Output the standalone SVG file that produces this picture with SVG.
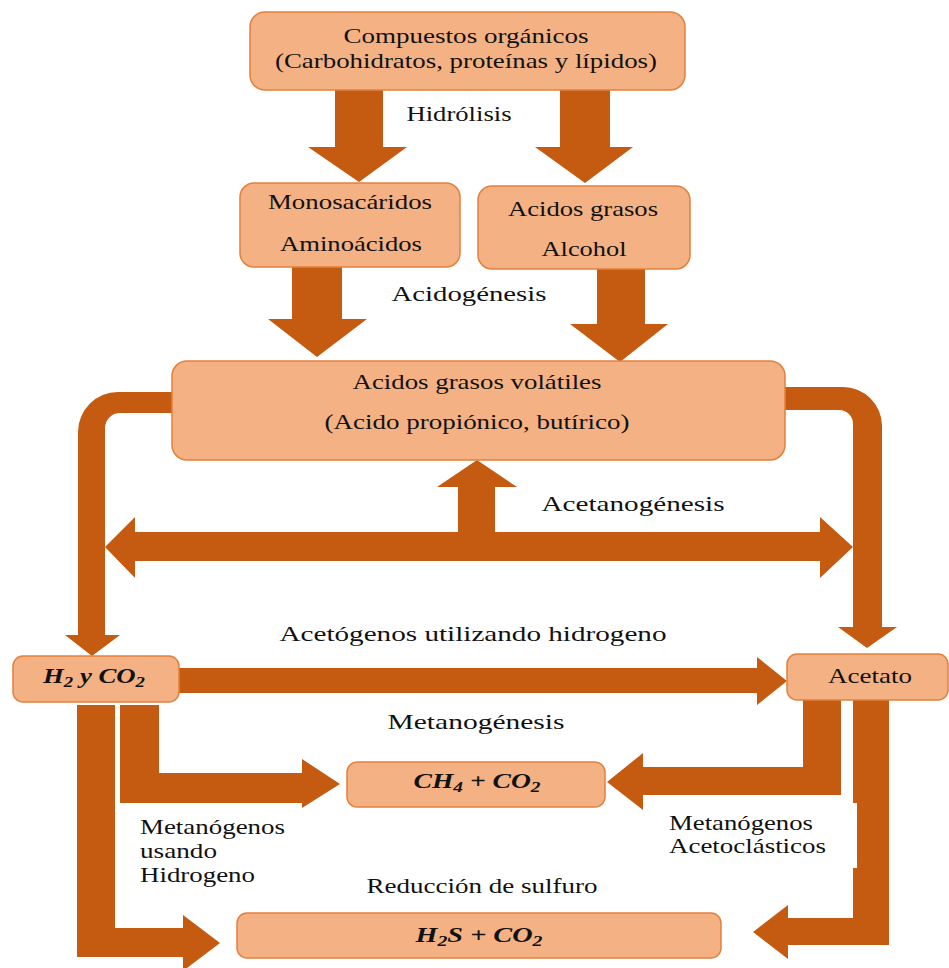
<svg xmlns="http://www.w3.org/2000/svg" width="949" height="968" viewBox="0 0 949 968">
<style>
.box{fill:#F4B183;stroke:#E3803E;stroke-width:1.5}
.arr{fill:#C55A11}
text{font-family:"Liberation Serif","Times New Roman",serif;font-size:22px;fill:#111111}
.c{text-anchor:middle}
.m{font-style:italic;font-weight:bold;font-size:20px}
.s{font-size:14px}
</style>
<rect width="949" height="968" fill="#ffffff"/>
<g id="connectors">
<path class="arr" d="M335,90 H383 V147 H407 L359,182 L308,147 H335 Z"/>
<path class="arr" d="M560,90 H610 V147 H633 L585,183 L535,147 H560 Z"/>
<path class="arr" d="M292,267 H342 V319 H367 L317,357 L268,319 H292 Z"/>
<path class="arr" d="M597,269 H645 V324 H668 L620,362 L570,324 H597 Z"/>
<path class="arr" d="M172,392 H118 A40,40 0 0 0 78,432 V635 H65 L92,656 L120,635 H105 V428 A15,15 0 0 1 120,413 H172 Z"/>
<path class="arr" d="M785,387 H843 A39,39 0 0 1 882,426 V627 H897 L867,648 L838,627 H853 V424 A14,14 0 0 0 839,410 H785 Z"/>
<path class="arr" d="M105,547 L135,517 V532 H458 V487 H437 L477,460 L517,487 H495 V532 H820 V517 L853,547 L820,578 V561 H135 V578 Z"/>
<path class="arr" d="M179,668 H757 V657 L787,681 L757,705 V693 H179 Z"/>
<path class="arr" d="M120,705 H159 V773 H302 V759 L340,784 L302,808 V803 H120 Z"/>
<path class="arr" d="M77,705 H115 V928 H183 V915 L220,943 L183,971 V957 H77 Z"/>
<path class="arr" d="M803,700 H841 V795 H643 V810 L607,782 L643,753 V767 H803 Z"/>
<path class="arr" d="M853,700 H889 V945 H788 V959 L753,932 L788,905 V918 H853 V868 H857 V803 H853 Z"/>
</g>
<g id="compuestos">
<rect class="box" x="250" y="12" width="435" height="78" rx="15"/>
<text class="c" x="466" y="43" textLength="245" lengthAdjust="spacingAndGlyphs">Compuestos orgánicos</text>
<text class="c" x="466" y="68" textLength="382" lengthAdjust="spacingAndGlyphs">(Carbohidratos, proteínas y lípidos)</text>
</g>
<g id="monosacaridos">
<rect class="box" x="240" y="183" width="220" height="84" rx="14"/>
<text class="c" x="350" y="209" textLength="164" lengthAdjust="spacingAndGlyphs">Monosacáridos</text>
<text class="c" x="351" y="251" textLength="142" lengthAdjust="spacingAndGlyphs">Aminoácidos</text>
</g>
<g id="acidos-grasos">
<rect class="box" x="478" y="186" width="212" height="83" rx="14"/>
<text class="c" x="583" y="216" textLength="150" lengthAdjust="spacingAndGlyphs">Acidos grasos</text>
<text class="c" x="584" y="256" textLength="85" lengthAdjust="spacingAndGlyphs">Alcohol</text>
</g>
<g id="volatiles">
<rect class="box" x="172" y="361" width="613" height="99" rx="15"/>
<text class="c" x="477" y="389" textLength="249" lengthAdjust="spacingAndGlyphs">Acidos grasos volátiles</text>
<text class="c" x="477" y="429" textLength="305" lengthAdjust="spacingAndGlyphs">(Acido propiónico, butírico)</text>
</g>
<g id="h2co2">
<rect class="box" x="13" y="656" width="166" height="46" rx="10"/>
<text class="c m" x="94" y="683" textLength="102" lengthAdjust="spacingAndGlyphs">H<tspan class="s" dy="4">2</tspan><tspan dy="-4"> y CO</tspan><tspan class="s" dy="4">2</tspan></text>
</g>
<g id="acetato">
<rect class="box" x="787" y="654" width="161" height="46" rx="10"/>
<text class="c" x="870" y="683" textLength="84" lengthAdjust="spacingAndGlyphs">Acetato</text>
</g>
<g id="ch4">
<rect class="box" x="347" y="762" width="258" height="45" rx="10"/>
<text class="c m" x="477" y="788" textLength="127" lengthAdjust="spacingAndGlyphs">CH<tspan class="s" dy="4">4</tspan><tspan dy="-4"> + CO</tspan><tspan class="s" dy="4">2</tspan></text>
</g>
<g id="h2s">
<rect class="box" x="237" y="913" width="484" height="45" rx="10"/>
<text class="c m" x="479" y="942" textLength="127" lengthAdjust="spacingAndGlyphs">H<tspan class="s" dy="4">2</tspan><tspan dy="-4">S + CO</tspan><tspan class="s" dy="4">2</tspan></text>
</g>
<g id="labels">
<text class="c" x="459" y="121" textLength="105" lengthAdjust="spacingAndGlyphs">Hidrólisis</text>
<text class="c" x="469" y="301" textLength="155" lengthAdjust="spacingAndGlyphs">Acidogénesis</text>
<text class="c" x="633" y="511" textLength="183" lengthAdjust="spacingAndGlyphs">Acetanogénesis</text>
<text class="c" x="473" y="641" textLength="387" lengthAdjust="spacingAndGlyphs">Acetógenos utilizando hidrogeno</text>
<text class="c" x="476" y="729" textLength="177" lengthAdjust="spacingAndGlyphs">Metanogénesis</text>
<text x="140" y="834" textLength="145" lengthAdjust="spacingAndGlyphs">Metanógenos</text>
<text x="140" y="858" textLength="77" lengthAdjust="spacingAndGlyphs">usando</text>
<text x="140" y="882" textLength="115" lengthAdjust="spacingAndGlyphs">Hidrogeno</text>
<text class="c" x="482" y="893" textLength="231" lengthAdjust="spacingAndGlyphs">Reducción de sulfuro</text>
<text x="669" y="830" textLength="144" lengthAdjust="spacingAndGlyphs">Metanógenos</text>
<text x="669" y="853" textLength="157" lengthAdjust="spacingAndGlyphs">Acetoclásticos</text>
</g>
</svg>
